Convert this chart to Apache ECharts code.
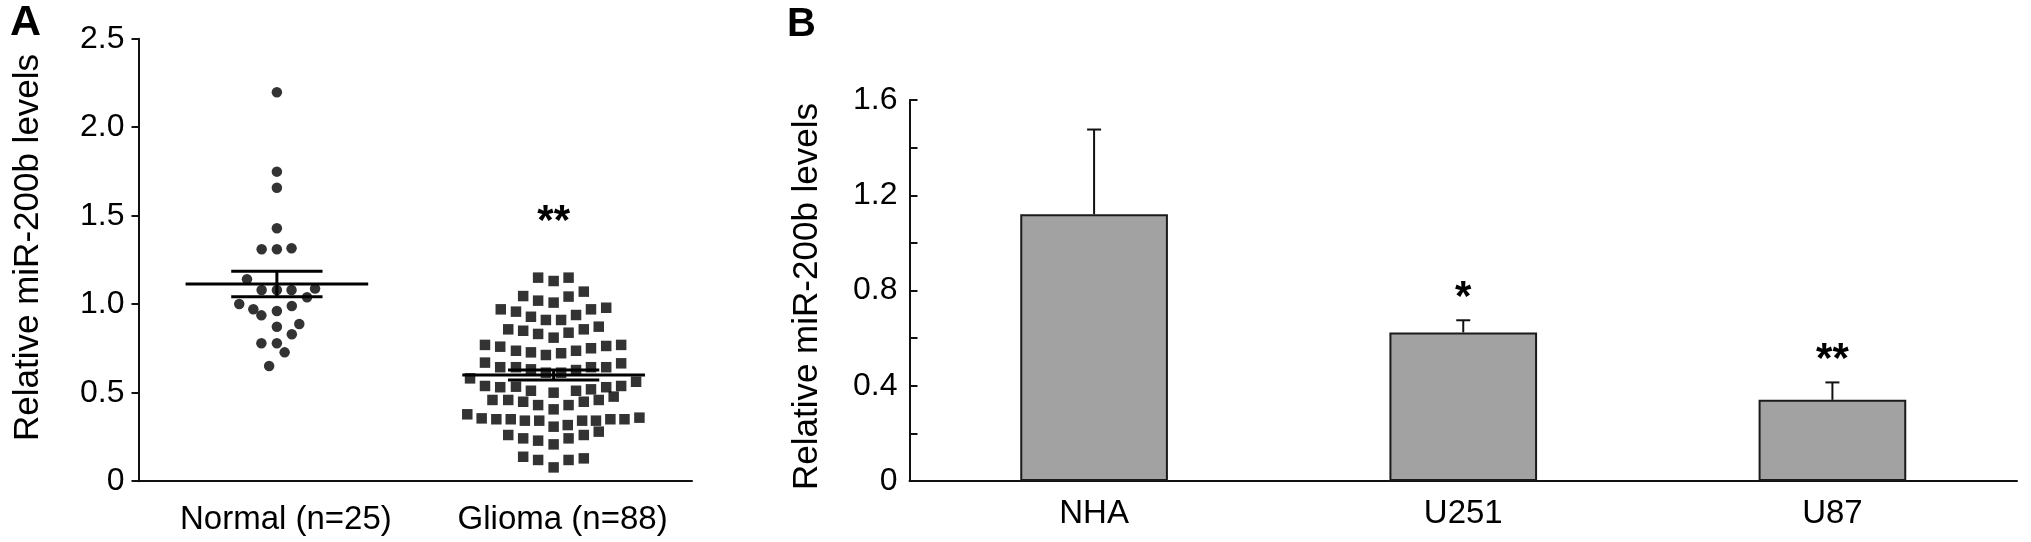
<!DOCTYPE html>
<html><head><meta charset="utf-8">
<script src="https://cdn.jsdelivr.net/npm/echarts@6/dist/echarts.min.js"></script>
<style>html,body{margin:0;padding:0;background:#fff}#c{width:2031px;height:542px}</style>
</head><body><div id="c"></div>
<script>
// ---------- Panel A data ----------
const groupsA = ['Normal (n=25)', 'Glioma (n=88)'];
const normalOffset = [0, 0, 0, 0, -0.055, 0, 0.053, -0.108, -0.055, 0, 0.053, 0.138, 0.109, -0.136, 0.054, -0.085, -0.056, 0, 0.081, 0, 0.054, -0.056, 0, 0.028, -0.028];
const normalValue  = [2.197, 1.749, 1.658, 1.429, 1.310, 1.310, 1.316, 1.141, 1.080, 1.080, 1.080, 1.088, 1.039, 1.001, 0.990, 0.971, 0.937, 0.962, 0.888, 0.873, 0.830, 0.779, 0.779, 0.728, 0.651];
const gliomaOffset = [
  -0.056, 0, 0.054,
  -0.110, -0.056, 0, 0.054, 0.109,
  -0.191, -0.136, -0.082, -0.028, 0.027, 0.081, 0.135, 0.190,
  -0.164, -0.110, -0.056, 0, 0.054, 0.109, 0.163,
  -0.248, -0.193, -0.136, -0.082, -0.028, 0.027, 0.081, 0.135, 0.190, 0.244,
  -0.248, -0.193, -0.136, -0.082, -0.028, 0.027, 0.081, 0.135, 0.190, 0.244,
  -0.302, 0.298,
  -0.248, -0.193, -0.136, -0.082, 0, 0.081, 0.135, 0.190, 0.244,
  -0.221, -0.164, -0.110, -0.056, 0, 0.054, 0.109, 0.163, 0.217,
  -0.312, -0.260, -0.207, -0.155, -0.104, -0.052, 0, 0.051, 0.103, 0.153, 0.205, 0.256, 0.310,
  -0.164, -0.110, -0.056, 0, 0.054, 0.109, 0.163,
  -0.110, -0.056, 0, 0.054, 0.109
];
const gliomaValue = [
  1.150, 1.131, 1.150,
  1.046, 1.020, 1.009, 1.043, 1.071,
  0.971, 0.958, 0.929, 0.911, 0.911, 0.939, 0.971, 0.980,
  0.858, 0.850, 0.832, 0.811, 0.839, 0.858, 0.873,
  0.770, 0.760, 0.737, 0.728, 0.713, 0.723, 0.737, 0.751, 0.764, 0.770,
  0.670, 0.644, 0.644, 0.632, 0.613, 0.613, 0.628, 0.644, 0.644, 0.666,
  0.581, 0.562,
  0.538, 0.531, 0.534, 0.511, 0.500, 0.511, 0.519, 0.531, 0.538,
  0.459, 0.459, 0.449, 0.430, 0.406, 0.430, 0.449, 0.459, 0.478,
  0.378, 0.355, 0.350, 0.350, 0.342, 0.342, 0.308, 0.317, 0.342, 0.342, 0.350, 0.350, 0.359,
  0.261, 0.242, 0.229, 0.208, 0.242, 0.261, 0.280,
  0.138, 0.120, 0.078, 0.120, 0.129
];
const meanA = [1.114, 0.600];
const semA = [0.072, 0.028];
const sigA = ['', '**'];
const sigAY = [null, 1.515];
const yTicksA = ['0', '0.5', '1.0', '1.5', '2.0', '2.5'];

// ---------- Panel B data ----------
const cellsB = ['NHA', 'U251', 'U87'];
const barB = [1.120, 0.624, 0.341];
const errB = [0.356, 0.051, 0.073];
const sigB = ['', '*', '**'];
const yTicksB = ['0', '0.4', '0.8', '1.2', '1.6'];

const FONT = "'Liberation Sans', Arial, Helvetica, sans-serif";
const INK = '#111';

const chart = echarts.init(document.getElementById('c'), null, {renderer: 'canvas'});

const option = {
  backgroundColor: '#fff',
  animation: false,
  title: [
    {text: 'A', left: 10, top: 2, padding: 0, textStyle: {fontFamily: FONT, fontSize: 43, fontWeight: 'bold', color: '#000'}},
    {text: 'B', left: 787, top: 5, padding: 0, textStyle: {fontFamily: FONT, fontSize: 40, fontWeight: 'bold', color: '#000'}}
  ],
  grid: [
    {left: 138.5, right: 1339, top: 38.7, bottom: 60.8, containLabel: false},
    {left: 909.5, right: 14, top: 100, bottom: 61, containLabel: false}
  ],
  xAxis: [
    {
      type: 'category', gridIndex: 0, data: groupsA, boundaryGap: true,
      axisLine: {lineStyle: {color: INK, width: 2}},
      axisTick: {alignWithLabel: true, length: 7, lineStyle: {color: INK, width: 2}},
      axisLabel: {fontFamily: FONT, fontSize: 33, color: '#000', margin: 22, padding: [0, 0, 0, 18]}
    },
    {type: 'value', gridIndex: 0, min: 0.5, max: 2.5, show: false},
    {
      type: 'category', gridIndex: 1, data: cellsB, boundaryGap: true,
      axisLine: {lineStyle: {color: INK, width: 2}},
      axisTick: {inside: true, length: 8, lineStyle: {color: INK, width: 2}},
      axisLabel: {fontFamily: FONT, fontSize: 33, color: '#000', margin: 16}
    }
  ],
  yAxis: [
    {
      type: 'value', gridIndex: 0, min: 0, max: 2.5, interval: 0.5,
      name: 'Relative miR-200b levels', nameLocation: 'middle', nameGap: 93,
      nameTextStyle: {fontFamily: FONT, fontSize: 35, color: '#000', padding: [0, 0, 0, 25]},
      splitLine: {show: false},
      axisLine: {show: true, lineStyle: {color: INK, width: 2}},
      axisTick: {show: true, length: 7, lineStyle: {color: INK, width: 2}},
      axisLabel: {fontFamily: FONT, fontSize: 32, color: '#000', margin: 14,
        formatter: v => yTicksA[Math.round(v / 0.5)]}
    },
    {
      type: 'value', gridIndex: 1, min: 0, max: 1.6, interval: 0.2,
      name: 'Relative miR-200b levels', nameLocation: 'middle', nameGap: 85,
      nameTextStyle: {fontFamily: FONT, fontSize: 35, color: '#000', padding: [0, 12, 0, 0]},
      splitLine: {show: false},
      axisLine: {show: true, lineStyle: {color: INK, width: 2}},
      axisTick: {show: true, inside: true, length: 8, lineStyle: {color: INK, width: 2}},
      axisLabel: {fontFamily: FONT, fontSize: 32, color: '#000', margin: 12,
        formatter: v => { const k = Math.round(v / 0.2); return k % 2 === 0 ? yTicksB[k / 2] : ''; }}
    }
  ],
  series: [
    {
      name: 'Normal', type: 'scatter', xAxisIndex: 1, yAxisIndex: 0,
      symbol: 'circle', symbolSize: 10.5, itemStyle: {color: '#000'},
      data: normalValue.map((v, i) => [1 + normalOffset[i], v]), z: 3
    },
    {
      name: 'Glioma', type: 'scatter', xAxisIndex: 1, yAxisIndex: 0,
      symbol: 'rect', symbolSize: 10.5, itemStyle: {color: '#000'},
      data: gliomaValue.map((v, i) => [2 + gliomaOffset[i], v]), z: 3
    },
    {
      name: 'Mean ± SEM', type: 'custom', xAxisIndex: 1, yAxisIndex: 0, z: 4,
      data: meanA.map((m, i) => [i + 1, m, semA[i]]),
      renderItem: (params, api) => {
        const x = api.value(0), m = api.value(1), s = api.value(2);
        const st = {stroke: '#000', lineWidth: 3};
        const seg = (a, b) => ({type: 'line', shape: {x1: a[0], y1: a[1], x2: b[0], y2: b[1]}, style: st});
        return {type: 'group', children: [
          seg(api.coord([x - 0.33, m]), api.coord([x + 0.33, m])),
          seg(api.coord([x - 0.165, m + s]), api.coord([x + 0.165, m + s])),
          seg(api.coord([x - 0.165, m - s]), api.coord([x + 0.165, m - s])),
          seg(api.coord([x, m - s]), api.coord([x, m + s]))
        ]};
      }
    },
    {
      name: 'sigA', type: 'custom', xAxisIndex: 1, yAxisIndex: 0, z: 5,
      data: sigAY.map((y, i) => [i + 1, y === null ? 0 : y]),
      renderItem: (params, api) => {
        const s = sigA[params.dataIndex];
        if (!s) return null;
        const p = api.coord([api.value(0), api.value(1)]);
        return {type: 'text', x: p[0], y: p[1] + 9,
          style: {text: s, fontFamily: FONT, fontSize: 42, fontWeight: 'bold', fill: '#000', align: 'center', verticalAlign: 'middle'}};
      }
    },
    {
      name: 'Cells', type: 'bar', xAxisIndex: 2, yAxisIndex: 1, barWidth: '40%',
      itemStyle: {color: '#a2a2a2', borderColor: '#1a1a1a', borderWidth: 2},
      data: barB, z: 2
    },
    {
      name: 'SD', type: 'custom', xAxisIndex: 2, yAxisIndex: 1, z: 3,
      data: barB.map((v, i) => [i, v, errB[i]]),
      renderItem: (params, api) => {
        const i = api.value(0), v = api.value(1), e = api.value(2);
        const b = api.coord([i, v]), t = api.coord([i, v + e]);
        const st = {stroke: '#111', lineWidth: 2};
        const children = [
          {type: 'line', shape: {x1: b[0], y1: b[1], x2: t[0], y2: t[1]}, style: st},
          {type: 'line', shape: {x1: t[0] - 7, y1: t[1], x2: t[0] + 7, y2: t[1]}, style: st}
        ];
        const s = sigB[params.dataIndex];
        if (s) children.push({type: 'text', x: t[0], y: t[1] - 22,
          style: {text: s, fontFamily: FONT, fontSize: 42, fontWeight: 'bold', fill: '#000', align: 'center', verticalAlign: 'middle'}});
        return {type: 'group', children};
      }
    }
  ]
};
chart.setOption(option);
</script>
</body></html>
